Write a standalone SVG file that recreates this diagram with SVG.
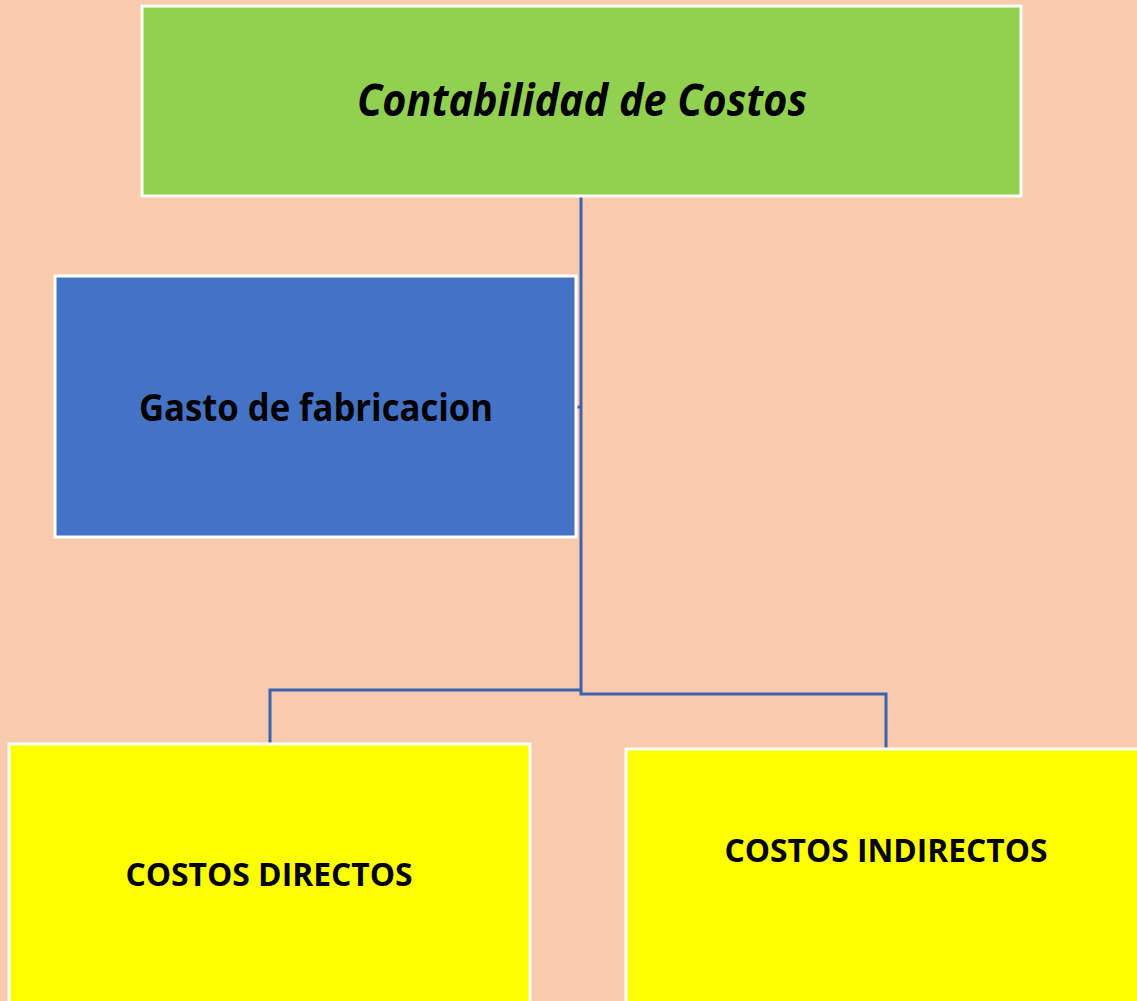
<svg xmlns="http://www.w3.org/2000/svg" width="1137" height="1001" viewBox="0 0 1137 1001">
<style>
.box{stroke:#FFFFFF;stroke-width:3}
.lbl{font-family:"Open Sans","Liberation Sans",sans-serif;font-weight:bold;fill:#000000;text-anchor:middle}
.conn{fill:none;stroke:#3F62AE;stroke-width:3}
</style>
<rect width="1137" height="1001" fill="#F7CBAC"/>
<g id="connectors">
<path class="conn" d="M581,196 V690 H270 V744"/>
<path class="conn" d="M581,690 V694 H886 V748"/>
<path class="conn" d="M576,407 H581"/>
</g>
<g id="node-contabilidad">
<rect class="box" x="142" y="6" width="879" height="190" fill="#92D050"/>
<text class="lbl" x="582" y="116" font-size="44" font-style="italic" textLength="450" lengthAdjust="spacingAndGlyphs">Contabilidad de Costos</text>
</g>
<g id="node-gasto">
<rect class="box" x="55" y="276" width="521" height="261" fill="#4472C4"/>
<text class="lbl" x="316" y="421" font-size="37" textLength="354" lengthAdjust="spacingAndGlyphs">Gasto de fabricacion</text>
</g>
<g id="node-directos">
<rect class="box" x="9" y="744" width="521" height="270" fill="#FFFF00"/>
<text class="lbl" x="269" y="886" font-size="33" textLength="287" lengthAdjust="spacingAndGlyphs">COSTOS DIRECTOS</text>
</g>
<g id="node-indirectos">
<rect class="box" x="626" y="749" width="520" height="265" fill="#FFFF00"/>
<text class="lbl" x="886" y="862" font-size="33" textLength="323" lengthAdjust="spacingAndGlyphs">COSTOS INDIRECTOS</text>
</g>
</svg>
